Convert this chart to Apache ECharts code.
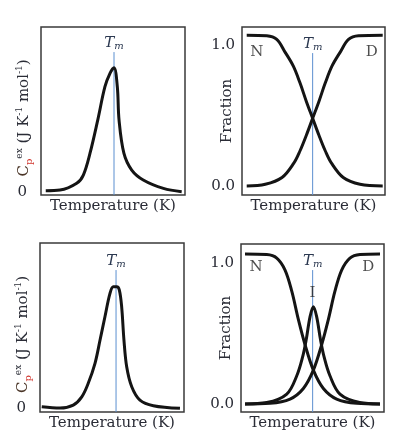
<!DOCTYPE html>
<html>
<head>
<meta charset="utf-8">
<script src="https://cdn.jsdelivr.net/npm/echarts@6/dist/echarts.min.js"></script>
<style>
html, body { margin: 0; padding: 0; background: #fff; }
#main { width: 399px; height: 445px; }
</style>
</head>
<body>
<div id="main"></div>
<script>
// two-state unfolding (top row) - excess heat capacity, x = temperature in % of the window
var cpTwoState = [[3.3, 0.8], [13.2, 1.2], [24.8, 5.3], [29.4, 10.3], [34, 23.4], [39.4, 43.6], [44.4, 63.8],
    [47.9, 71.9], [50.7, 75.3], [53, 63.8], [54.2, 43.6], [57.6, 23.4], [63, 13.3], [71, 7.3], [85, 2.2], [97.7, 0.2]]
var fracN2 = [[3.3, 1.07], [17.3, 1.066], [24.3, 1.04], [30.1, 0.95], [35.9, 0.85], [40.6, 0.73], [45, 0.60],
    [49.4, 0.48], [53.8, 0.36], [58.2, 0.25], [62.7, 0.16], [70.8, 0.06], [82.5, 0.012], [98.4, 0]]
var fracD2 = [[3.3, 0], [16.3, 0.012], [28, 0.06], [36.1, 0.16], [40.6, 0.25], [45, 0.36], [49.4, 0.48],
    [53.8, 0.60], [58.2, 0.73], [62.9, 0.85], [68.7, 0.95], [74.5, 1.04], [81.5, 1.066], [98.4, 1.07]]

// three-state unfolding (bottom row)
var cpThreeState = [[1.2, 0.8], [13.9, 0], [23.1, 1.8], [29, 6.8], [33.5, 15], [38.2, 27.1], [41.7, 41.2],
    [45.1, 55.3], [48.6, 69.5], [50.9, 73.5], [53.3, 73.5], [55.1, 71.5], [56.7, 61.4], [58.3, 41.2],
    [60.2, 25], [63.7, 12.9], [69.4, 4.8], [78.7, 1.4], [97.2, -0.2]]
var fracN3 = [[2.8, 1.064], [18, 1.06], [25, 1.035], [30.8, 0.95], [35.5, 0.80], [40.1, 0.60], [44.8, 0.42],
    [50.6, 0.24], [57.6, 0.11], [66.9, 0.035], [80.9, 0.005], [97.2, 0]]
var fracI3 = [[2.8, 0], [18, 0.01], [32, 0.07], [39, 0.2], [43, 0.33], [45.5, 0.45], [48.3, 0.62], [50.6, 0.69],
    [52.9, 0.62], [55.7, 0.45], [58.2, 0.33], [62.2, 0.2], [69.2, 0.07], [83, 0.01], [97.2, 0]]
var fracD3 = [[2.8, 0], [20.3, 0.005], [34.3, 0.035], [43.6, 0.11], [50.6, 0.24], [56.4, 0.42], [61.1, 0.60],
    [65.7, 0.80], [70.4, 0.95], [76.2, 1.035], [83.2, 1.06], [97.2, 1.064]]

// melting temperature marker per panel: x and top of the blue line
var tmX = [50.7, 49.4, 52.8, 50.1]
var tmTop = [84.8, 0.943, 83.6, 0.95]

var cpTicks = [0]
var fracTicks = [0, 1]

var serif = 'DejaVu Serif'
var textColor = '#2a2c36'
var yName = '{c|C}{p|p}{s|ex}{t| (J K}{s|-1}{t| mol}{s|-1}{t|)}'
var yNameRich = {
    c: { fontFamily: serif, fontSize: 15, color: '#4a3527', lineHeight: 19 },
    p: { fontFamily: serif, fontSize: 10, color: '#d0342c', verticalAlign: 'bottom', lineHeight: 19 },
    s: { fontFamily: serif, fontSize: 9, color: textColor, verticalAlign: 'top', lineHeight: 19 },
    t: { fontFamily: serif, fontSize: 15, color: textColor, lineHeight: 19 }
}

var grids = [
    { left: 41, top: 27, width: 144, height: 168 },
    { left: 242, top: 27, width: 143, height: 168 },
    { left: 40, top: 243, width: 144, height: 169 },
    { left: 241, top: 244, width: 143, height: 168 }
]
var yRange = [[-1.8, 100], [-0.064, 1.128], [-2.4, 100], [-0.057, 1.135]]

var xAxes = [], yAxes = []
grids.forEach(function (g, i) {
    g.show = true
    g.borderColor = '#3a3a3a'
    g.borderWidth = 1.5
    g.containLabel = false
    g.outerBoundsMode = 'none'
    xAxes.push({
        gridIndex: i, type: 'value', min: 0, max: 100,
        axisLine: { show: false }, axisTick: { show: false }, axisLabel: { show: false }, splitLine: { show: false },
        name: 'Temperature (K)', nameLocation: 'middle', nameGap: 4, nameMoveOverlap: false,
        nameTextStyle: { fontFamily: serif, fontSize: 15, color: textColor, verticalAlign: 'top' }
    })
    var isFrac = i % 2 == 1
    yAxes.push({
        gridIndex: i, type: 'value', min: yRange[i][0], max: yRange[i][1],
        axisLine: { show: false }, axisTick: { show: false }, splitLine: { show: false },
        axisLabel: {
            customValues: isFrac ? fracTicks : cpTicks,
            formatter: function (v) { return isFrac ? v.toFixed(1) : String(v) },
            margin: isFrac ? 7 : 14,
            fontFamily: serif, fontSize: 15, color: textColor
        },
        name: isFrac ? 'Fraction' : yName,
        nameLocation: 'middle', nameRotate: 90, nameGap: 7, nameMoveOverlap: false,
        nameTextStyle: isFrac
            ? { fontFamily: serif, fontSize: 15, color: textColor }
            : { rich: yNameRich, padding: [0, 14, 0, 0] }
    })
})

var curve = function (i, data) {
    return {
        type: 'line', xAxisIndex: i, yAxisIndex: i, data: data,
        smooth: 0.35, showSymbol: false, silent: true, z: 3,
        lineStyle: { color: '#141414', width: 3 }
    }
}

var tmLine = function (i) {
    return {
        type: 'line', xAxisIndex: i, yAxisIndex: i, silent: true, z: 2,
        symbolSize: 0, showSymbol: true,
        lineStyle: { color: '#5b8fd0', width: 1 },
        data: [
            {
                value: [tmX[i], tmTop[i]],
                label: {
                    show: true, position: 'top', distance: 1,
                    formatter: '{t|T}{m|m}',
                    rich: {
                        t: { fontFamily: serif, fontStyle: 'italic', fontSize: 15, color: '#2b3850' },
                        m: { fontFamily: serif, fontStyle: 'italic', fontSize: 10, color: '#2b3850', verticalAlign: 'bottom' }
                    }
                }
            },
            [tmX[i], yRange[i][0]]
        ]
    }
}

var tags = function (i, items) {
    return {
        type: 'scatter', xAxisIndex: i, yAxisIndex: i, silent: true, symbolSize: 0, z: 4,
        label: { show: true, position: 'inside', fontFamily: serif, fontSize: 15, color: '#222',
            formatter: function (p) { return p.name } },
        data: items
    }
}

var myChart = echarts.init(document.getElementById('main'))
var options = {
    animation: false,
    backgroundColor: '#fff',
    grid: grids,
    xAxis: xAxes,
    yAxis: yAxes,
    series: [
        curve(0, cpTwoState), tmLine(0),
        curve(1, fracN2), curve(1, fracD2), tmLine(1),
        tags(1, [{ name: 'N', value: [10.3, 0.95] }, { name: 'D', value: [90.7, 0.95] }]),
        curve(2, cpThreeState), tmLine(2),
        curve(3, fracN3), curve(3, fracI3), curve(3, fracD3), tmLine(3),
        tags(3, [{ name: 'N', value: [10.5, 0.97] }, { name: 'D', value: [89, 0.97] }, { name: 'I', value: [49.9, 0.785] }])
    ]
}
myChart.setOption(options)
</script>
</body>
</html>
